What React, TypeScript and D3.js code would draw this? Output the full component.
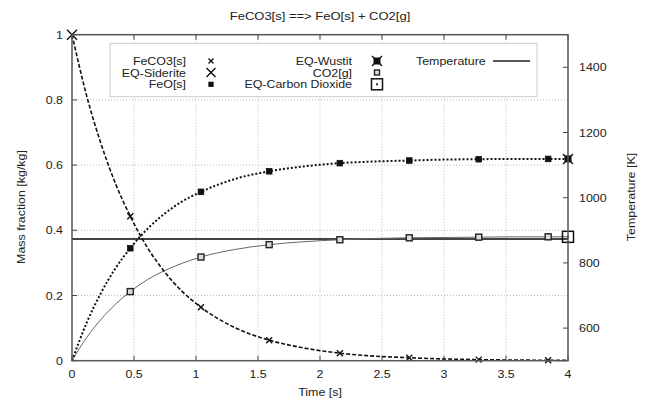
import React from "react";
import * as d3 from "d3";

// Time samples [s] for the smooth curves
const times = [0, 0.12, 0.23, 0.35, 0.47, 0.61, 0.75, 0.89, 1.04, 1.31, 1.59, 1.87, 2.16, 2.44, 2.72, 3.0, 3.28, 3.56, 3.84, 4.0];
const feco3 = [1.0, 0.81, 0.67, 0.544, 0.443, 0.346, 0.271, 0.212, 0.164, 0.102, 0.063, 0.039, 0.023, 0.014, 0.009, 0.0054, 0.0033, 0.002, 0.0013, 0.001];
const feo = [0, 0.118, 0.205, 0.283, 0.345, 0.405, 0.452, 0.489, 0.518, 0.557, 0.581, 0.596, 0.606, 0.611, 0.614, 0.617, 0.618, 0.619, 0.619, 0.619];
const co2 = [0, 0.072, 0.125, 0.173, 0.212, 0.249, 0.277, 0.299, 0.318, 0.341, 0.356, 0.365, 0.371, 0.375, 0.377, 0.378, 0.379, 0.38, 0.38, 0.38];

// Sample points that get a marker
const markerTimes = [0.47, 1.04, 1.59, 2.16, 2.72, 3.28, 3.84];
const feco3Marks = [0.443, 0.164, 0.063, 0.023, 0.009, 0.0033, 0.0013];
const feoMarks = [0.345, 0.518, 0.581, 0.606, 0.614, 0.618, 0.619];
const co2Marks = [0.212, 0.318, 0.356, 0.371, 0.377, 0.379, 0.38];

// Equilibrium points
const eqSiderite = { t: 0, v: 1.0 };
const eqWustit = { t: 4, v: 0.619 };
const eqCO2 = { t: 4, v: 0.38 };

// Temperature [K]
const tempTimes = [0, 4];
const tempValues = [873, 873];

const xTicks = [0, 0.5, 1, 1.5, 2, 2.5, 3, 3.5, 4];
const yTicks = [0, 0.2, 0.4, 0.6, 0.8, 1];
const y2Ticks = [600, 800, 1000, 1200, 1400];

const W = 645, H = 403;
const L = 72, R = 568, T = 34.7, B = 360.7;
const FONT = "'Liberation Sans', Arial, sans-serif";

const x = d3.scaleLinear().domain([0, 4]).range([L, R]);
const y = d3.scaleLinear().domain([0, 1]).range([B, T]);
const y2 = d3.scaleLinear().domain([500, 1500]).range([B, T]);

const curve = (vals: number[]) =>
  d3.line<number>().x((_, i) => x(times[i])).y((v) => y(v)).curve(d3.curveMonotoneX)(vals) || "";

// Text drawn slightly wide, like the terminal font
const Txt = ({ x: tx, y: ty, anchor = "start", rot = 0, size = 11, children }: any) => (
  <g transform={`translate(${tx},${ty}) rotate(${rot}) scale(1.13,1)`}>
    <text x={0} y={0} textAnchor={anchor} fontSize={size} fill="#222">{children}</text>
  </g>
);

const SmallX = ({ cx, cy, s = 3 }: { cx: number; cy: number; s?: number }) => (
  <path d={`M${cx - s},${cy - s}L${cx + s},${cy + s}M${cx - s},${cy + s}L${cx + s},${cy - s}`} stroke="#111" strokeWidth={1.4} />
);
const FilledSq = ({ cx, cy, s = 3 }: { cx: number; cy: number; s?: number }) => (
  <rect x={cx - s} y={cy - s} width={2 * s} height={2 * s} fill="#111" stroke="#111" strokeWidth={0.8} />
);
const OpenSq = ({ cx, cy, s = 3 }: { cx: number; cy: number; s?: number }) => (
  <rect x={cx - s} y={cy - s} width={2 * s} height={2 * s} fill="#ddd" stroke="#222" strokeWidth={1.4} />
);
const Wustit = ({ cx, cy }: { cx: number; cy: number }) => (
  <g>
    <rect x={cx - 3.5} y={cy - 3.5} width={7} height={7} fill="#111" />
    <SmallX cx={cx} cy={cy} s={5} />
  </g>
);
const BigSq = ({ cx, cy }: { cx: number; cy: number }) => (
  <g>
    <rect x={cx - 5.5} y={cy - 5.5} width={11} height={11} fill="none" stroke="#111" strokeWidth={1.5} />
    <rect x={cx - 1} y={cy - 1} width={2} height={2} fill="#333" />
  </g>
);

export default function App() {
  const tempLine = d3.line<number>().x((_, i) => x(tempTimes[i])).y((v) => y2(v))(tempValues) || "";
  const legRows = [61, 72.5, 84.3];
  const dy = 4;
  return (
    <svg width={W} height={H} style={{ position: "absolute", left: 0, top: 0, background: "#fff" }} fontFamily={FONT}>
      <rect x={0} y={0} width={W} height={H} fill="#fff" />
      {/* grid */}
      <g stroke="#bbb" strokeWidth={1} strokeDasharray="1,2">
        {xTicks.slice(1, -1).map((t) => (
          <line key={"gx" + t} x1={x(t)} x2={x(t)} y1={B} y2={T} />
        ))}
        {yTicks.slice(1, -1).map((t) => (
          <line key={"gy" + t} x1={L} x2={R} y1={y(t)} y2={y(t)} />
        ))}
      </g>
      {/* ticks */}
      <g stroke="#444" strokeWidth={1}>
        {xTicks.map((t) => (
          <g key={"tx" + t}>
            <line x1={x(t)} x2={x(t)} y1={B} y2={B - 5} />
            <line x1={x(t)} x2={x(t)} y1={T} y2={T + 5} />
          </g>
        ))}
        {yTicks.map((t) => (
          <line key={"ty" + t} x1={L} x2={L + 5} y1={y(t)} y2={y(t)} />
        ))}
        {y2Ticks.map((t) => (
          <line key={"ty2" + t} x1={R} x2={R - 5} y1={y2(t)} y2={y2(t)} />
        ))}
      </g>
      {/* legend box */}
      <rect x={110} y={43.3} width={427} height={53.4} fill="#fff" stroke="#ccc" strokeWidth={1} />
      <Txt x={186} y={legRows[0] + dy} anchor="end">FeCO3[s]</Txt>
      <Txt x={186} y={legRows[1] + dy} anchor="end">EQ-Siderite</Txt>
      <Txt x={186} y={legRows[2] + dy} anchor="end">FeO[s]</Txt>
      <Txt x={352} y={legRows[0] + dy} anchor="end">EQ-Wustit</Txt>
      <Txt x={352} y={legRows[1] + dy} anchor="end">CO2[g]</Txt>
      <Txt x={352} y={legRows[2] + dy} anchor="end">EQ-Carbon Dioxide</Txt>
      <Txt x={416} y={legRows[0] + dy}>Temperature</Txt>
      <SmallX cx={211} cy={legRows[0]} s={2.5} />
      <SmallX cx={211} cy={legRows[1]} s={4.5} />
      <FilledSq cx={211} cy={legRows[2]} s={2.2} />
      <Wustit cx={377} cy={legRows[0]} />
      <OpenSq cx={377} cy={legRows[1]} s={2.5} />
      <BigSq cx={377} cy={legRows[2]} />
      <line x1={493} x2={530} y1={legRows[0]} y2={legRows[0]} stroke="#222" strokeWidth={1.4} />

      {/* temperature */}
      <path d={tempLine} stroke="#444" strokeWidth={2} fill="none" />
      {/* curves */}
      <path d={curve(co2)} stroke="#666" strokeWidth={1} fill="none" />
      <path d={curve(feo)} stroke="#111" strokeWidth={2} strokeDasharray="2,2" fill="none" />
      <path d={curve(feco3)} stroke="#111" strokeWidth={1.6} strokeDasharray="4,2" fill="none" />

      {/* markers */}
      {markerTimes.map((t, i) => (
        <g key={"m" + t}>
          <SmallX cx={x(t)} cy={y(feco3Marks[i])} />
          <FilledSq cx={x(t)} cy={y(feoMarks[i])} s={2.8} />
          <OpenSq cx={x(t)} cy={y(co2Marks[i])} s={3} />
        </g>
      ))}
      <SmallX cx={x(eqSiderite.t)} cy={y(eqSiderite.v)} s={5} />
      <Wustit cx={x(eqWustit.t)} cy={y(eqWustit.v)} />
      <BigSq cx={x(eqCO2.t)} cy={y(eqCO2.v)} />

      {/* frame */}
      <rect x={L} y={T} width={R - L} height={B - T} fill="none" stroke="#555" strokeWidth={1.5} />

      {/* tick labels */}
      {xTicks.map((t) => (
        <Txt key={"lx" + t} x={x(t)} y={B + 17} anchor="middle">{d3.format("")(t)}</Txt>
      ))}
      {yTicks.map((t) => (
        <Txt key={"ly" + t} x={L - 9} y={y(t) + 4} anchor="end">{d3.format("")(t)}</Txt>
      ))}
      {y2Ticks.map((t) => (
        <Txt key={"ly2" + t} x={R + 11} y={y2(t) + 4}>{t}</Txt>
      ))}

      {/* titles */}
      <Txt x={(L + R) / 2} y={20} anchor="middle" size={11.5}>FeCO3[s] ==&gt; FeO[s] + CO2[g]</Txt>
      <Txt x={(L + R) / 2} y={396} anchor="middle">Time [s]</Txt>
      <g transform="translate(25,207) rotate(-90) scale(1.13,1)">
        <text textAnchor="middle" fontSize={11} fill="#222">Mass fraction [kg/kg]</text>
      </g>
      <g transform="translate(635,197) rotate(-90) scale(1.13,1)">
        <text textAnchor="middle" fontSize={11} fill="#222">Temperature [K]</text>
      </g>
    </svg>
  );
}
